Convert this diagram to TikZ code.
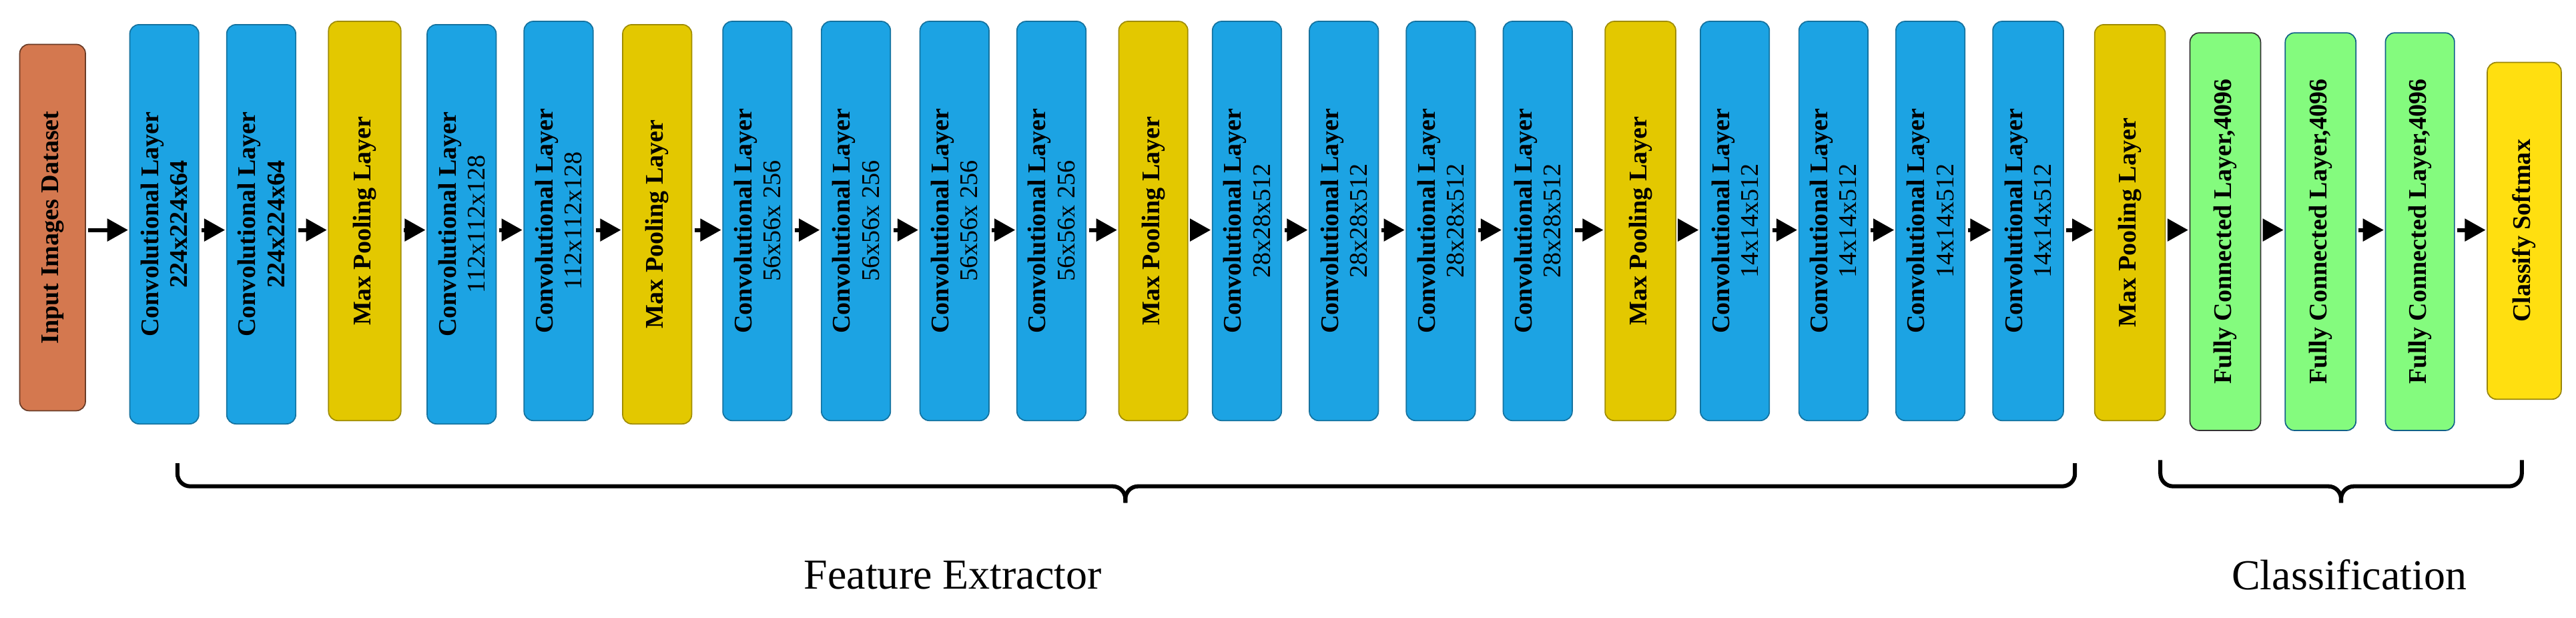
\documentclass[tikz,border=0pt]{standalone}
\usepackage{fontspec}
\setmainfont{Liberation Serif}
\usetikzlibrary{arrows.meta}
\definecolor{cin}{HTML}{D4784F}
\definecolor{cconv}{HTML}{1CA3E3}
\definecolor{cpool}{HTML}{E3C800}
\definecolor{cfc}{HTML}{84FB7E}
\definecolor{csm}{HTML}{FFDF10}
\begin{document}
\begin{tikzpicture}[x=0.1cm,y=-0.1cm,
  box/.style={draw,line width=2pt,rounded corners=16pt,inner sep=0pt},
  lab/.style={rotate=90,align=center,font=\fontsize{44}{50}\selectfont,inner sep=0pt},
  arr/.style={-{Triangle[length=36pt,width=38pt]},line width=7pt,shorten <=4pt,shorten >=2pt},
  brace/.style={line width=7pt,rounded corners=22pt}]
\useasboundingbox (0,0) rectangle (1568,376);
\foreach \n/\xa/\xb/\ya/\yb/\col/\bc/\t in {
 in/12/52/27/250/cin/cin!50!black/{\bfseries Input Images Dataset},
 c1/79/121/15/258/cconv/cconv!70!black/{\bfseries Convolutional Layer\\\bfseries 224x224x64},
 c2/138/180/15/258/cconv/cconv!70!black/{\bfseries Convolutional Layer\\\bfseries 224x224x64},
 p1/200/244/13/256/cpool/cpool!70!black/{\bfseries Max Pooling Layer},
 c3/260/302/15/258/cconv/cconv!70!black/{\bfseries Convolutional Layer\\112x112x128},
 c4/319/361/13/256/cconv/cconv!70!black/{\bfseries Convolutional Layer\\112x112x128},
 p2/379/421/15/258/cpool/cpool!70!black/{\bfseries Max Pooling Layer},
 c5/440/482/13/256/cconv/cconv!70!black/{\bfseries Convolutional Layer\\56x56x 256},
 c6/500/542/13/256/cconv/cconv!70!black/{\bfseries Convolutional Layer\\56x56x 256},
 c7/560/602/13/256/cconv/cconv!70!black/{\bfseries Convolutional Layer\\56x56x 256},
 c8/619/661/13/256/cconv/cconv!70!black/{\bfseries Convolutional Layer\\56x56x 256},
 p3/681/723/13/256/cpool/cpool!70!black/{\bfseries Max Pooling Layer},
 c9/738/780/13/256/cconv/cconv!70!black/{\bfseries Convolutional Layer\\28x28x512},
 c10/797/839/13/256/cconv/cconv!70!black/{\bfseries Convolutional Layer\\28x28x512},
 c11/856/898/13/256/cconv/cconv!70!black/{\bfseries Convolutional Layer\\28x28x512},
 c12/915/957/13/256/cconv/cconv!70!black/{\bfseries Convolutional Layer\\28x28x512},
 p4/977/1020/13/256/cpool/cpool!70!black/{\bfseries Max Pooling Layer},
 c13/1035/1077/13/256/cconv/cconv!70!black/{\bfseries Convolutional Layer\\14x14x512},
 c14/1095/1137/13/256/cconv/cconv!70!black/{\bfseries Convolutional Layer\\14x14x512},
 c15/1154/1196/13/256/cconv/cconv!70!black/{\bfseries Convolutional Layer\\14x14x512},
 c16/1213/1256/13/256/cconv/cconv!70!black/{\bfseries Convolutional Layer\\14x14x512},
 p5/1275/1318/15/256/cpool/cpool!70!black/{\bfseries Max Pooling Layer},
 f1/1333/1376/20/262/cfc/black!80/{\bfseries Fully Connected Layer,4096},
 f2/1391/1434/20/262/cfc/cconv!60!black/{\bfseries Fully Connected Layer,4096},
 f3/1452/1494/20/262/cfc/cconv!60!black/{\bfseries Fully Connected Layer,4096},
 sm/1514/1559/38/243/csm/csm!60!black/{\bfseries Classify Softmax}}
{
 \node[box,fill=\col,draw=\bc,minimum width={(\xb-\xa)*0.1cm},minimum height={(\yb-\ya)*0.1cm}] (\n) at ({(\xa+\xb)/2},{(\ya+\yb)/2}) {};
 \node[lab] (\n t) at (\n.center) {\t};
}
\foreach \a/\b in {in/c1,c1/c2,c2/p1,p1/c3,c3/c4,c4/p2,p2/c5,c5/c6,c6/c7,c7/c8,c8/p3,p3/c9,c9/c10,c10/c11,c11/c12,c12/p4,p4/c13,c13/c14,c14/c15,c15/c16,c16/p5,p5/f1,f1/f2,f2/f3,f3/sm}
 \draw[arr] (\a.east|-0,140) -- (\b.west|-0,140);
\coordinate (b1l) at (108,282); \coordinate (b1m) at (685,306); \coordinate (b1r) at (1263,282);
\coordinate (b2l) at (1315,280); \coordinate (b2m) at (1425,306); \coordinate (b2r) at (1535,280);
\draw[brace] (b1l) -- (108,296) -- (685,296) -- (b1m);
\draw[brace] (b1m) -- (685,296) -- (1263,296) -- (b1r);
\draw[brace] (b2l) -- (1315,296) -- (1425,296) -- (b2m);
\draw[brace] (b2m) -- (1425,296) -- (1535,296) -- (b2r);
\node[font=\fontsize{74}{80}\selectfont] (fe) at (580,350) {Feature Extractor};
\node[font=\fontsize{74}{80}\selectfont] (cl) at (1430,350) {Classification};
\end{tikzpicture}
\end{document}
